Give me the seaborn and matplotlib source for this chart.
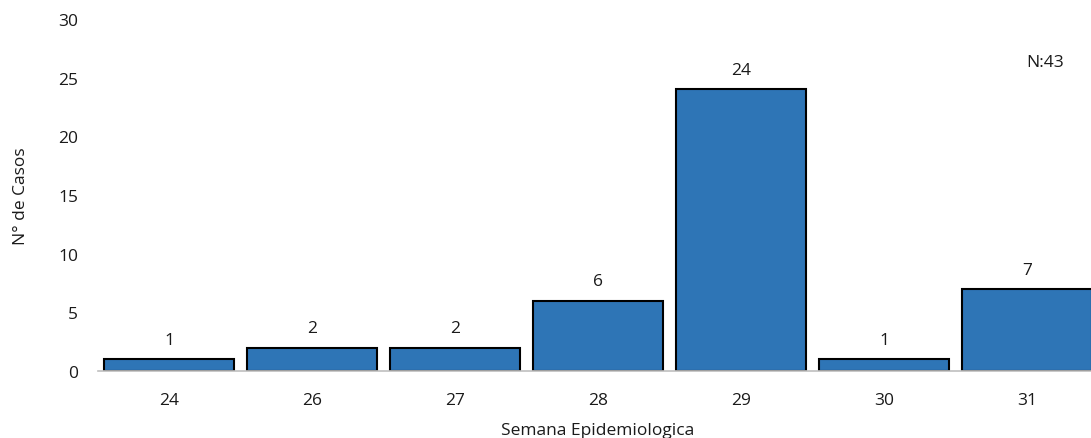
import seaborn as sns
import matplotlib.pyplot as plt
import pandas as pd

# Datos
semanas = ["24", "26", "27", "28", "29", "30", "31"]
casos = [1, 2, 2, 6, 24, 1, 7]
total_txt = "N:43"

df = pd.DataFrame({"semana": semanas, "casos": casos})

sns.set_style("white")
plt.rcParams["font.family"] = ["Open Sans", "DejaVu Sans"]

fig = plt.figure(figsize=(10.91, 4.39), dpi=100)
# el eje se sale un poco por la derecha, como en el original
ax = fig.add_axes([97.5 / 1091, (439 - 372) / 439, (1098.5 - 97.5) / 1091, 352 / 439])

sns.barplot(data=df, x="semana", y="casos", order=semanas, color="#2E75B6",
            saturation=1, edgecolor="black", linewidth=1.5, width=0.91, ax=ax)

fs = 12.5
ax.bar_label(ax.containers[0], fmt="%d", padding=8, fontsize=fs, color="#1a1a1a")
ax.text(6.13, 26.3, total_txt, ha="center", va="center", fontsize=fs, color="#1a1a1a")

ax.set_ylim(0, 30)
ax.set_yticks(range(0, 31, 5))
ax.set_xlim(-0.5, 6.5)
ax.set_xlabel("Semana Epidemiologica", fontsize=fs, color="#1a1a1a", labelpad=10)
ax.set_ylabel("N° de Casos", fontsize=fs, color="#1a1a1a", labelpad=21)
ax.tick_params(axis="both", length=0, labelsize=fs, labelcolor="#1a1a1a")
ax.tick_params(axis="x", pad=15)
ax.tick_params(axis="y", pad=14)

sns.despine(ax=ax, left=True, right=True, top=True)
ax.spines["bottom"].set_color("#BFBFBF")
ax.spines["bottom"].set_linewidth(1.2)

fig.savefig("out.png", dpi=100)
